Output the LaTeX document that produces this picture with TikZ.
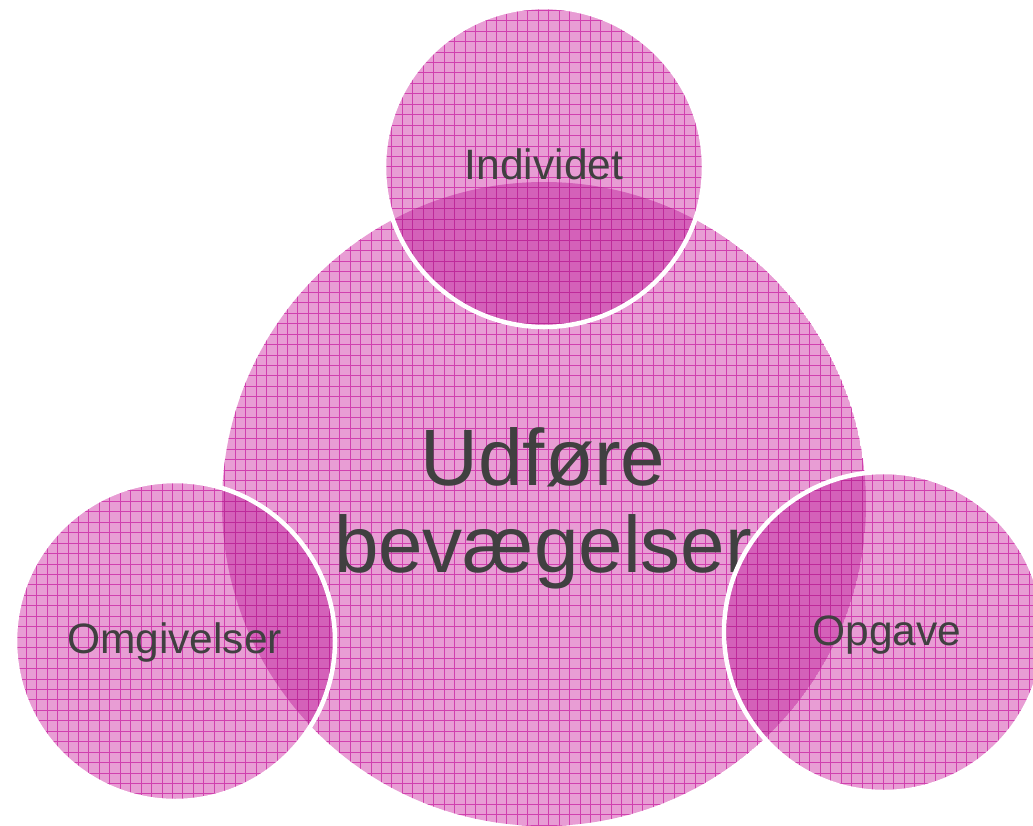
\documentclass[tikz,border=0pt]{standalone}
\usepackage{fontspec}
\setmainfont{Liberation Sans}
\definecolor{pinkA}{HTML}{E89DD4}
\definecolor{pinkB}{HTML}{D461B9}
\definecolor{lineA}{HTML}{D040AE}
\definecolor{lineB}{HTML}{BE2A9A}
\definecolor{txt}{HTML}{404040}
\newcommand\mygridlines[1]{%
  \foreach \k in {0,...,99} {\draw[#1] ({5.2+\k*10.45},-5) -- ++(0,840);}%
  \foreach \k in {0,...,80} {\draw[#1] (-5,{10.1+\k*10.45}) -- ++(1045,0);}%
}
\tikzset{
  gA/.style={draw=lineA, line width=0.75pt},
  gB/.style={draw=lineB, line width=0.75pt},
  rim/.style={draw=white, line width=4.5pt},
  small/.style={font=\fontsize{42.5}{50}\selectfont, text=txt, inner sep=0pt, anchor=base},
  big/.style={font=\fontsize{80}{87}\selectfont, text=txt, inner sep=0pt, anchor=base},
}
\begin{document}
\begin{tikzpicture}[x=1pt,y=-1pt]
\useasboundingbox (0,0) rectangle (1033,825);
\fill[white] (0,0) rectangle (1033,825);
\coordinate (cB) at (544,504);
\coordinate (cT) at (544,167);
\coordinate (cL) at (175,641);
\coordinate (cR) at (884,632);
\def\rB{322pt}
\def\rS{160pt}
% big circle
\begin{scope}
  \clip (cB) circle[radius=\rB];
  \fill[pinkA] (cB) circle[radius=\rB];
  \mygridlines{gA}
\end{scope}
\node[big] (udf) at (543,485) {Udføre};
\node[big] (bev) at (543,572) {bevægelser};
% small circles
\foreach \c in {cT,cL,cR} {
  \begin{scope}
    \clip (\c) circle[radius=\rS];
    \fill[pinkA] (\c) circle[radius=\rS];
    \mygridlines{gA}
    \clip (cB) circle[radius=\rB];
    \fill[pinkB] (cB) circle[radius=\rB];
    \mygridlines{gB}
  \end{scope}
  \draw[rim] (\c) circle[radius=\rS];
}
\node[small] (ind) at (544,179) {Individet};
\node[small] (omg) at (174.5,653) {Omgivelser};
\node[small] (opg) at (887,645) {Opgave};
\end{tikzpicture}
\end{document}
